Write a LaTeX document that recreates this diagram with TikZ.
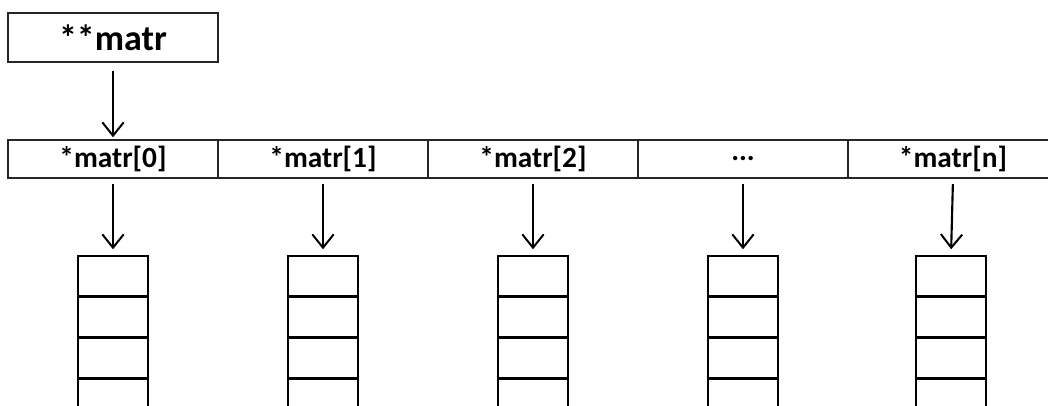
\documentclass[tikz,border=0pt]{standalone}
\usepackage{fontspec}
\setmainfont{Carlito}
\usetikzlibrary{arrows.meta,positioning}
\begin{document}
\begin{tikzpicture}[x=0.75pt,y=-0.75pt,
  cellbox/.style={draw=black!85,line width=1.1pt,inner sep=0pt,
    minimum width=157.5pt,minimum height=28.5pt,font=\fontsize{22}{26}\selectfont\bfseries},
  topbox/.style={cellbox,minimum height=36.75pt,font=\fontsize{27}{32}\selectfont\bfseries},
  slot/.style={draw=black,line width=1.1pt,inner sep=0pt,
    minimum width=52.5pt,minimum height=29.6pt},
  ptr/.style={line width=1.6pt,-{Straight Barb[length=10pt,width=16pt,line width=1.5pt]}}]
\clip (0,0) rectangle (1048,405);
\fill[white] (0,0) rectangle (1048,405);
% the pointer to pointers
\node[topbox] (pp) at (113,37.5) {**matr};
% the array of row pointers
\node[cellbox] (r0) at (113,159) {*matr[0]};
\node[cellbox] (r1) at (323,159) {*matr[1]};
\node[cellbox] (r2) at (533,159) {*matr[2]};
\node[cellbox] (r3) at (743,159) {...};
\node[cellbox] (r4) at (953,159) {*matr[n]};
\draw[ptr,shorten <=6pt,shorten >=1.5pt] (pp.south) -- (r0.north);
% one column of elements under each row pointer
\foreach \i/\x in {0/113,1/323,2/533,3/743,4/951}{
  \node[slot] (s\i a) at (\x,275.75) {};
  \node[slot,below=0pt of s\i a] (s\i b) {};
  \node[slot,below=0pt of s\i b] (s\i c) {};
  \node[slot,below=0pt of s\i c] (s\i d) {};
  \draw[ptr,shorten <=4pt,shorten >=4.5pt] (r\i.south) -- (s\i a.north);
}
\end{tikzpicture}
\end{document}
